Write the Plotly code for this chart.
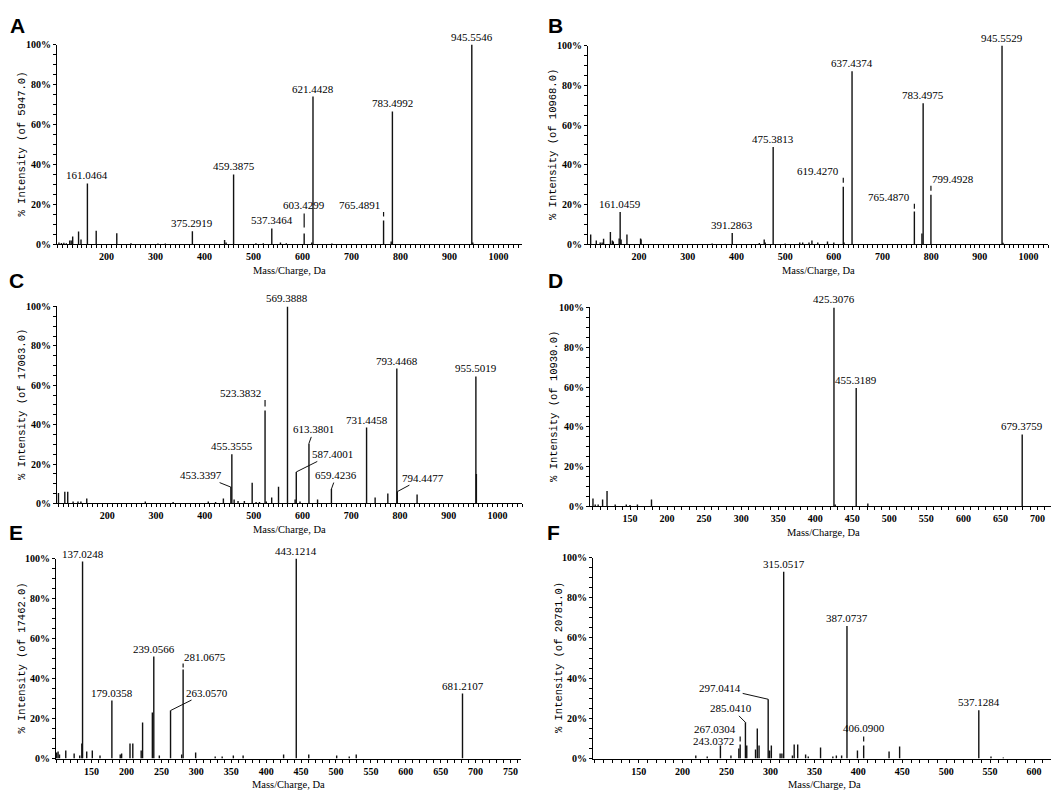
import plotly.graph_objects as go

W, H = 1059, 790

# ---------------- data (m/z, % intensity) ----------------
A_mz = [103, 108, 113, 118, 125, 128, 131, 143, 148, 161.0464, 179, 221, 250, 305, 320, 375.2919,
        441, 444, 459.3875, 505, 520, 537.3464, 555, 567, 603.4299, 619, 621.4428, 660, 765.4891,
        781, 783.4992, 945.5546, 947.5]
A_int = [1, 0.7, 0.8, 0.6, 2, 2, 4, 6.5, 2.5, 30.5, 6.8, 5.6, 0.6, 0.5, 0.5, 6.6,
         2.2, 1, 35, 0.6, 0.6, 8, 1, 0.6, 5.5, 1, 74, 0.5, 12,
         1.5, 66.5, 100, 1]
A_lab_txt = ["161.0464", "375.2919", "459.3875", "537.3464", "603.4299", "621.4428",
             "765.4891", "783.4992", "945.5546"]
A_lab_at = [161.0464, 375.2919, 459.3875, 537.3464, 603.4299, 621.4428, 765.4891, 783.4992, 945.5546]
A_total = "5947.0"

B_mz = [100.5, 112, 120, 124, 127, 141, 145, 147, 159, 161.0459, 163, 175, 203, 204, 350, 391.2863,
        447, 457, 459, 475.3813, 500, 530, 536, 549, 555, 567, 587, 600, 619.4270, 621, 637.4374,
        765.4870, 781, 783.4975, 799.4928, 945.5529, 947.5]
B_int = [5, 2, 1, 1, 2.8, 6.3, 2, 1.5, 3, 16.3, 2.5, 5, 3, 2.5, 0.5, 5.8,
         0.7, 2.5, 1, 49, 0.5, 1, 1, 1, 2, 1, 1.5, 1, 29, 1, 87,
         16.5, 5.5, 71, 25, 100, 0.8]
B_lab_txt = ["161.0459", "391.2863", "475.3813", "619.4270", "637.4374", "765.4870",
             "783.4975", "799.4928", "945.5529"]
B_lab_at = [161.0459, 391.2863, 475.3813, 619.4270, 637.4374, 765.4870, 783.4975, 799.4928, 945.5529]
B_total = "10968.0"

C_mz = [100, 113, 119, 130, 140, 146, 158, 278, 335, 407, 422, 438, 453.3397, 455.3555, 460, 468,
        481, 497, 505, 512, 523.3832, 526, 537, 551, 569.3888, 585, 587.4001, 595, 613.3801, 631,
        659.4236, 731.4458, 749, 775, 793.4468, 794.4477, 835, 955.5019, 956.5]
C_int = [5.3, 6, 6, 1, 1, 1, 2.5, 1, 0.7, 1, 0.8, 2.5, 8.3, 25, 2, 1.3,
         1.2, 10.5, 0.8, 0.8, 47.2, 1, 3, 8.5, 100, 2, 16, 1, 30.5, 2,
         7.3, 38.5, 3, 5, 68.5, 6, 4.5, 64.5, 15]
C_lab_txt = ["453.3397", "455.3555", "523.3832", "569.3888", "587.4001", "613.3801",
             "659.4236", "731.4458", "793.4468", "794.4477", "955.5019"]
C_lab_at = [453.3397, 455.3555, 523.3832, 569.3888, 587.4001, 613.3801, 659.4236, 731.4458,
            793.4468, 794.4477, 955.5019]
C_total = "17063.0"

D_mz = [100, 103, 107, 113, 119, 130, 145, 150, 160, 179, 425.3076, 427, 455.3189, 471, 679.3759]
D_int = [4, 1, 1, 3.5, 7.8, 1, 1, 0.7, 1, 3.5, 100, 1, 59.5, 1.5, 36.2]
D_lab_txt = ["425.3076", "455.3189", "679.3759"]
D_lab_at = [425.3076, 455.3189, 679.3759]
D_total = "10930.0"

E_mz = [100, 102, 104, 113, 125, 133, 136, 137.0248, 143, 151, 162, 179.0358, 191, 193, 205, 209,
        221, 223, 237, 239.0566, 247, 263.0570, 279, 281.0675, 299, 327, 337, 353, 367, 425,
        443.1214, 461, 501, 519, 529, 681.2107]
E_int = [3, 3.5, 2, 4, 2.5, 1.5, 7.5, 98.5, 3.5, 4, 1.5, 29, 2, 2.5, 7.5, 7.5,
         4, 18, 23, 51, 1.5, 24, 2, 44.5, 3, 1, 1, 1.5, 1.5, 2,
         100, 2, 1.5, 1, 2, 32.5]
E_lab_txt = ["137.0248", "179.0358", "239.0566", "263.0570", "281.0675", "443.1214", "681.2107"]
E_lab_at = [137.0248, 179.0358, 239.0566, 263.0570, 281.0675, 443.1214, 681.2107]
E_total = "17462.0"

F_mz = [215, 228, 243.0372, 255, 264, 265.5, 271.5, 273, 283, 285, 287, 297.4, 299, 301, 311, 313,
        315.0517, 325, 327, 331, 340, 343, 357, 371, 375, 381, 387.0737, 399, 406.09, 435, 447,
        537.1284, 551, 565]
F_int = [1.5, 1, 6.5, 1.5, 5, 7, 18, 6.5, 4.5, 15, 6.5, 29.5, 4, 6.5, 2.5, 2.5,
         93, 1.5, 7, 7, 2, 1, 5.5, 1, 1.5, 1.5, 66, 4, 6.5, 3.5, 6,
         24, 1, 0.5]
F_lab_txt = ["243.0372", "267.0304", "285.0410", "297.0414", "315.0517", "387.0737", "406.0900", "537.1284"]
F_lab_at = [265.5, 265.5, 271.5, 297.4, 315.0517, 387.0737, 406.09, 537.1284]
F_total = "20781.0"

ticks_wide = [200, 300, 400, 500, 600, 700, 800, 900, 1000]
ticks_D = [150, 200, 250, 300, 350, 400, 450, 500, 550, 600, 650, 700]
ticks_E = [150, 200, 250, 300, 350, 400, 450, 500, 550, 600, 650, 700, 750]
ticks_F = [150, 200, 250, 300, 350, 400, 450, 500, 550, 600]
y_ticks = [0, 20, 40, 60, 80, 100]

# ---------------- label placement (style only) ----------------
# ('top',) | ('tick', gap0, gap1, side) | ('lead', ax, ay) | ('free', yc, xshift)
A_place = [('top',), ('top',), ('top',), ('top',), ('tick', 3, 10, 'center'), ('top',),
           ('tick', 2, 4.2, 'right'), ('top',), ('top',)]
B_place = [('top',), ('top',), ('top',), ('tick', 2, 4.5, 'right'), ('top',),
           ('tick', 1.5, 4, 'right'), ('top',), ('tick', 2, 4.5, 'left'), ('top',)]
C_place = [('lead', -30, -12), ('top',), ('tick', 2, 5.3, 'right'), ('top',), ('lead', 36, -18),
           ('lead', 5, -14), ('lead', 5, -14), ('top',), ('top',), ('lead', 26, -14), ('top',)]
D_place = [('top',), ('top',), ('top',)]
E_place = [('top',), ('top',), ('top',), ('lead', 36, -18), ('tick', 1, 3, 'left'), ('top',), ('top',)]
F_place = [('free', 8.5, -4), ('tick', 1.5, 4, 'right'), ('lead', -14, -14), ('lead', -48, -11),
           ('top',), ('top',), ('tick', 2, 4.5, 'center'), ('top',)]

panels = [
    dict(L="A", mz=A_mz, it=A_int, lt=A_lab_txt, la=A_lab_at, pl=A_place, tot=A_total,
         tv=ticks_wide, box=(49, 514, 31, 234), xr=(99, 1048), let=(9, 12), yt=14),
    dict(L="B", mz=B_mz, it=B_int, lt=B_lab_txt, la=B_lab_at, pl=B_place, tot=B_total,
         tv=ticks_wide, box=(580, 1040, 32, 234), xr=(95, 1040), let=(547, 12), yt=545),
    dict(L="C", mz=C_mz, it=C_int, lt=C_lab_txt, la=C_lab_at, pl=C_place, tot=C_total,
         tv=ticks_wide, box=(49, 514, 297, 497), xr=(97, 1050), let=(8, 271), yt=14),
    dict(L="D", mz=D_mz, it=D_int, lt=D_lab_txt, la=D_lab_at, pl=D_place, tot=D_total,
         tv=ticks_D, box=(582, 1048, 298, 500), xr=(96, 725), let=(547, 271), yt=546),
    dict(L="E", mz=E_mz, it=E_int, lt=E_lab_txt, la=E_lab_at, pl=E_place, tot=E_total,
         tv=ticks_E, box=(48, 513, 553, 756), xr=(99, 765), let=(8, 526), yt=14),
    dict(L="F", mz=F_mz, it=F_int, lt=F_lab_txt, la=F_lab_at, pl=F_place, tot=F_total,
         tv=ticks_F, box=(585, 1048, 552, 756), xr=(98, 625), let=(545, 526), yt=551),
]

SERIF = "Liberation Serif"
INK = "#111111"

fig = go.Figure()
annotations = []
layout = {}

for i, p in enumerate(panels, start=1):
    xa = "x" if i == 1 else f"x{i}"
    ya = "y" if i == 1 else f"y{i}"
    x0, x1, yt_, yb_ = p["box"]

    # peaks
    xs, ys = [], []
    for m, v in zip(p["mz"], p["it"]):
        xs += [m, m, None]
        ys += [0, v, None]
    fig.add_trace(go.Scatter(x=xs, y=ys, mode="lines", line=dict(color=INK, width=1.4),
                             xaxis=xa, yaxis=ya, hoverinfo="skip", showlegend=False))

    height = dict(zip(p["mz"], p["it"]))
    tx, ty = [], []
    for txt, at, pl in zip(p["lt"], p["la"], p["pl"]):
        h = height[at]
        base = dict(x=at, y=h, xref=xa, yref=ya, text=txt,
                    font=dict(family=SERIF, size=11, color="black"))
        if pl[0] == "top":
            annotations.append(dict(base, showarrow=False, yanchor="bottom", xanchor="center"))
        elif pl[0] == "tick":
            g0, g1, side = pl[1], pl[2], pl[3]
            tx += [at, at, None]
            ty += [h + g0, h + g1, None]
            if side == "center":
                annotations.append(dict(base, y=h + g1, showarrow=False, yanchor="bottom",
                                        xanchor="center"))
            elif side == "right":
                annotations.append(dict(base, y=h + g1 - 0.5, showarrow=False, yanchor="bottom",
                                        xanchor="right", xshift=-2))
            else:
                annotations.append(dict(base, y=h + g1 - 0.5, showarrow=False, yanchor="bottom",
                                        xanchor="left", xshift=-1))
        elif pl[0] == "lead":
            annotations.append(dict(base, showarrow=True, arrowhead=0, arrowwidth=1,
                                    arrowcolor=INK, ax=pl[1], ay=pl[2], standoff=0))
        elif pl[0] == "free":
            annotations.append(dict(base, y=pl[1], showarrow=False, yanchor="middle",
                                    xanchor="right", xshift=pl[2]))
    if tx:
        fig.add_trace(go.Scatter(x=tx, y=ty, mode="lines", line=dict(color=INK, width=1.2),
                                 xaxis=xa, yaxis=ya, hoverinfo="skip", showlegend=False))

    tickfont = dict(family=SERIF, size=10, color="black", weight="bold")
    # ticks every 10 Da / 5 %, labelled only at the major values
    x_tv = list(range(int(p["xr"][0]) // 10 * 10 + 10, int(p["xr"][1]) + 1, 10))
    x_tt = [str(v) if v in p["tv"] else "" for v in x_tv]
    y_tv = list(range(0, 101, 5))
    y_tt = [f"{v}%" if v in y_ticks else "" for v in y_tv]
    layout["xaxis" if i == 1 else f"xaxis{i}"] = dict(
        domain=[x0 / W, x1 / W], range=list(p["xr"]), anchor=ya,
        tickmode="array", tickvals=x_tv, ticktext=x_tt,
        ticks="outside", ticklen=3, tickwidth=1, tickcolor="black",
        showline=True, linecolor="black", linewidth=1, showgrid=False, zeroline=False,
        tickfont=tickfont,
    )
    layout["yaxis" if i == 1 else f"yaxis{i}"] = dict(
        domain=[1 - yb_ / H, 1 - yt_ / H], range=[0, 100], anchor=xa,
        tickmode="array", tickvals=y_tv, ticktext=y_tt,
        ticks="outside", ticklen=3, tickwidth=1, tickcolor="black",
        showline=True, linecolor="black", linewidth=1, showgrid=False, zeroline=False,
        tickfont=tickfont,
    )

    # panel letter
    lx, ly = p["let"]
    annotations.append(dict(x=lx / W, y=1 - ly / H, xref="paper", yref="paper", text=p["L"],
                            showarrow=False, xanchor="center", yanchor="middle",
                            font=dict(family="Liberation Sans", size=21, color="black",
                                      weight="bold")))
    # x title
    annotations.append(dict(x=(x0 + x1) / 2 / W, y=1 - (yb_ + 26) / H, xref="paper", yref="paper",
                            text="Mass/Charge, Da", showarrow=False, xanchor="center",
                            yanchor="middle", font=dict(family=SERIF, size=10.5, color="black")))
    # y title
    annotations.append(dict(x=p["yt"] / W, y=1 - (yt_ + yb_) / 2 / H, xref="paper", yref="paper",
                            text=f"% Intensity (of {p['tot']})", textangle=-90, showarrow=False,
                            xanchor="center", yanchor="middle",
                            font=dict(family="Liberation Mono", size=10.5, color="black")))

fig.update_layout(
    width=W, height=H, autosize=False,
    margin=dict(l=0, r=0, t=0, b=0),
    paper_bgcolor="white", plot_bgcolor="white",
    showlegend=False,
    annotations=annotations,
    **layout,
)

fig.write_html("out.html")
